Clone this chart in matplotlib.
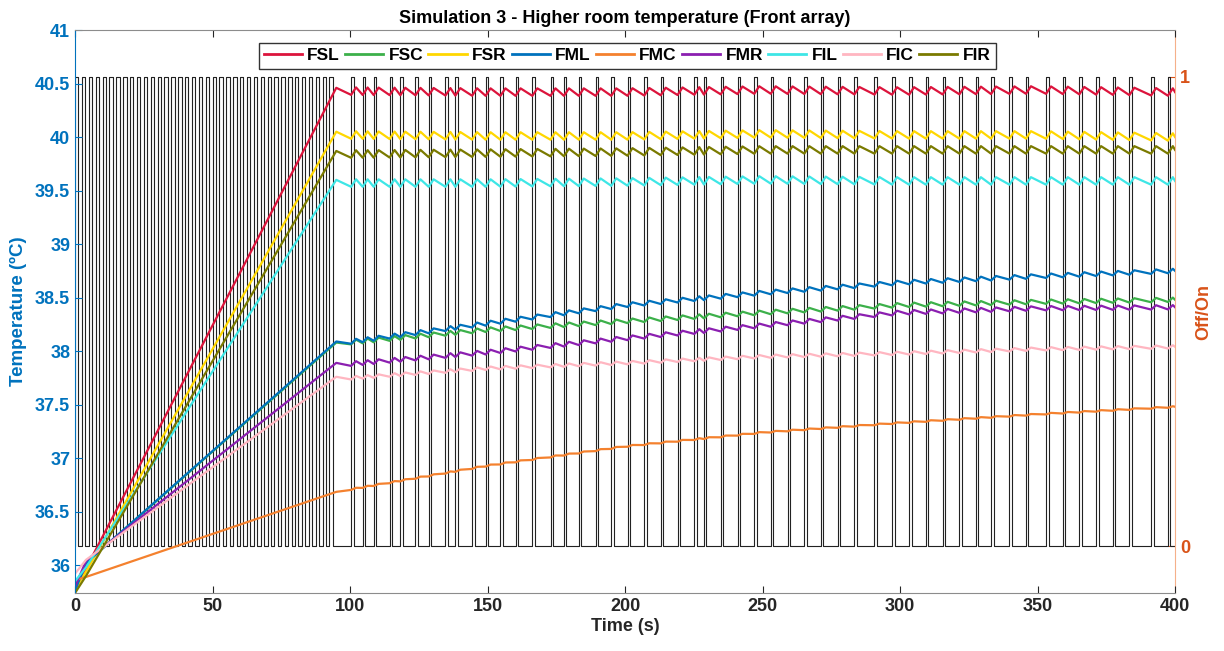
#imports
import numpy as np
import matplotlib.pyplot as plt
from matplotlib.ticker import FormatStrFormatter

plt.rcParams['font.family'] = ['Liberation Sans', 'DejaVu Sans']
plt.rcParams['font.weight'] = 'bold'

# series names and colours
noms = ['FSL', 'FSC', 'FSR', 'FML', 'FMC', 'FMR', 'FIL', 'FIC', 'FIR']
couleurs = ['#DC143C', '#3CB04A', '#FFD700', '#0072BD', '#F4812E',
            '#8B1FB0', '#3EE6E6', '#FFB6C1', '#7A7A00']

# linear heating phase (t = 0, 4, 95 s)
t_rampe = [0, 4, 95]
rampe = {
    'FSL': [35.78, 35.97, 40.46],
    'FSC': [35.76, 36.02, 38.08],
    'FSR': [35.77, 35.94, 40.05],
    'FML': [35.76, 36.02, 38.09],
    'FMC': [35.86, 35.89, 36.685],
    'FMR': [35.80, 36.04, 37.89],
    'FIL': [35.85, 35.98, 39.60],
    'FIC': [35.92, 36.05, 37.76],
    'FIR': [35.74, 35.90, 39.87],
}

# mean level after 95 s
t_tendance = [95, 150, 200, 250, 300, 350, 400]
tendance = {
    'FSL': [40.43, 40.42, 40.42, 40.44, 40.43, 40.44, 40.42],
    'FSC': [38.07, 38.20, 38.28, 38.36, 38.43, 38.46, 38.48],
    'FSR': [40.02, 40.01, 40.01, 40.03, 40.02, 40.02, 40.00],
    'FML': [38.07, 38.26, 38.43, 38.545, 38.64, 38.70, 38.75],
    'FMC': [36.685, 36.93, 37.11, 37.24, 37.33, 37.41, 37.48],
    'FMR': [37.87, 37.99, 38.12, 38.24, 38.36, 38.40, 38.41],
    'FIL': [39.57, 39.57, 39.58, 39.60, 39.59, 39.59, 39.59],
    'FIC': [37.74, 37.84, 37.89, 37.95, 37.98, 38.02, 38.04],
    'FIR': [39.84, 39.85, 39.86, 39.88, 39.88, 39.88, 39.88],
}
# peak to peak ripple
ondulation = {'FSL': 0.07, 'FSC': 0.04, 'FSR': 0.07, 'FML': 0.04, 'FMC': 0.012,
              'FMR': 0.04, 'FIL': 0.07, 'FIC': 0.03, 'FIR': 0.07}

# Off/On signal: start times of each "on" pulse
impulsions_rapides = [0.0, 2.5, 5.0, 7.5, 10.0, 12.5, 15.0, 17.5, 20.0, 22.5,
                      25.0, 27.5, 30.0, 32.5, 35.0, 37.5, 40.0, 42.5, 45.0, 47.5,
                      50.0, 52.5, 55.0, 57.5, 60.0, 62.5, 65.0, 67.5, 70.0, 72.5,
                      75.0, 77.5, 80.0, 82.5, 85.0, 87.5, 90.0, 92.5]
impulsions_lentes = [100.4, 104.6, 108.6, 114.4, 118.3, 123.8, 128.6, 134.7, 138.3,
                     144.4, 149.3, 154.7, 160.2, 166.3, 172.9, 177.8, 183.2, 189.3,
                     195.0, 200.9, 207.0, 213.0, 219.1, 225.2, 228.7, 234.8, 240.9,
                     247.0, 253.0, 259.1, 265.2, 271.2, 277.3, 283.4, 290.7, 297.1,
                     303.3, 309.4, 315.5, 321.6, 327.6, 333.1, 339.8, 345.8, 353.1,
                     359.2, 365.2, 371.3, 377.4, 383.4, 391.3, 397.4]
largeur_rapide = 1.25
largeur_lente = 0.9


def signal_carre():
    ts, vs = [], []
    for debut in impulsions_rapides:
        ts += [debut, debut, debut + largeur_rapide, debut + largeur_rapide]
        vs += [0, 1, 1, 0]
    for debut in impulsions_lentes:
        ts += [debut, debut, debut + largeur_lente, debut + largeur_lente]
        vs += [0, 1, 1, 0]
    ts.append(400)
    vs.append(0)
    return ts, vs


def courbe(nom):
    t = list(t_rampe)
    v = list(rampe[nom])
    a = ondulation[nom] / 2
    for p in impulsions_lentes:
        t.append(p)
        v.append(np.interp(p, t_tendance, tendance[nom]) - a)
        t.append(p + 1.8)
        v.append(np.interp(p + 1.8, t_tendance, tendance[nom]) + a)
    t.append(400)
    v.append(np.interp(400, t_tendance, tendance[nom]))
    return t, v


fig = plt.figure(figsize=(12.24, 6.51), dpi=100)
ax = fig.add_axes([0.0613, 0.0891, 0.8987, 0.8648])
ax2 = ax.twinx()
ax.set_zorder(ax2.get_zorder() + 1)
ax.patch.set_visible(False)

# square wave on right axis
ts, vs = signal_carre()
ax2.plot(ts, vs, color='#222222', lw=0.8)
ax2.set_ylim(-0.1, 1.1)
ax2.set_yticks([0, 1])
ax2.tick_params(axis='y', colors='#D95319', direction='in', labelsize=13, length=5)
for lab in ax2.get_yticklabels():
    lab.set_color('#D95319')
ax2.set_ylabel('Off/On', color='#D95319', fontsize=13, fontweight='bold')
ax2.spines['right'].set_color('#F5B08A')
for s in ['left', 'top', 'bottom']:
    ax2.spines[s].set_visible(False)

# temperatures on left axis
for nom, c in zip(noms, couleurs):
    t, v = courbe(nom)
    ax.plot(t, v, color=c, lw=1.6, label=nom)

ax.set_xlim(0, 400)
ax.set_ylim(35.74, 41)
ax.set_xticks(np.arange(0, 401, 50))
ax.set_yticks(np.arange(36, 41.01, 0.5))
ax.yaxis.set_major_formatter(FormatStrFormatter('%g'))
ax.tick_params(axis='x', direction='in', top=True, labelsize=13, colors='#262626', length=5)
ax.tick_params(axis='y', direction='in', labelsize=13, colors='#0072BD', length=5)
ax.spines['left'].set_color('#0072BD')
ax.spines['right'].set_visible(False)
ax.spines['top'].set_color('#8c8c8c')
ax.spines['bottom'].set_color('#8c8c8c')
ax.set_xlabel('Time (s)', fontsize=13, fontweight='bold', color='#262626', labelpad=2)
ax.set_ylabel('Temperature (ºC)', fontsize=13.5, fontweight='bold', color='#0072BD', labelpad=6)
ax.set_title('Simulation 3 - Higher room temperature (Front array)', fontsize=13,
             fontweight='bold', pad=5)

leg = ax.legend(loc='upper center', bbox_to_anchor=(0.502, 0.977), ncol=9,
                fontsize=12.5, handlelength=2.2, columnspacing=0.3, handletextpad=0.3,
                fancybox=False, framealpha=1, edgecolor='#333333',
                borderpad=0.3, borderaxespad=0)
for h in leg.get_lines():
    h.set_linewidth(2)

plt.savefig('out.png', dpi=100)
